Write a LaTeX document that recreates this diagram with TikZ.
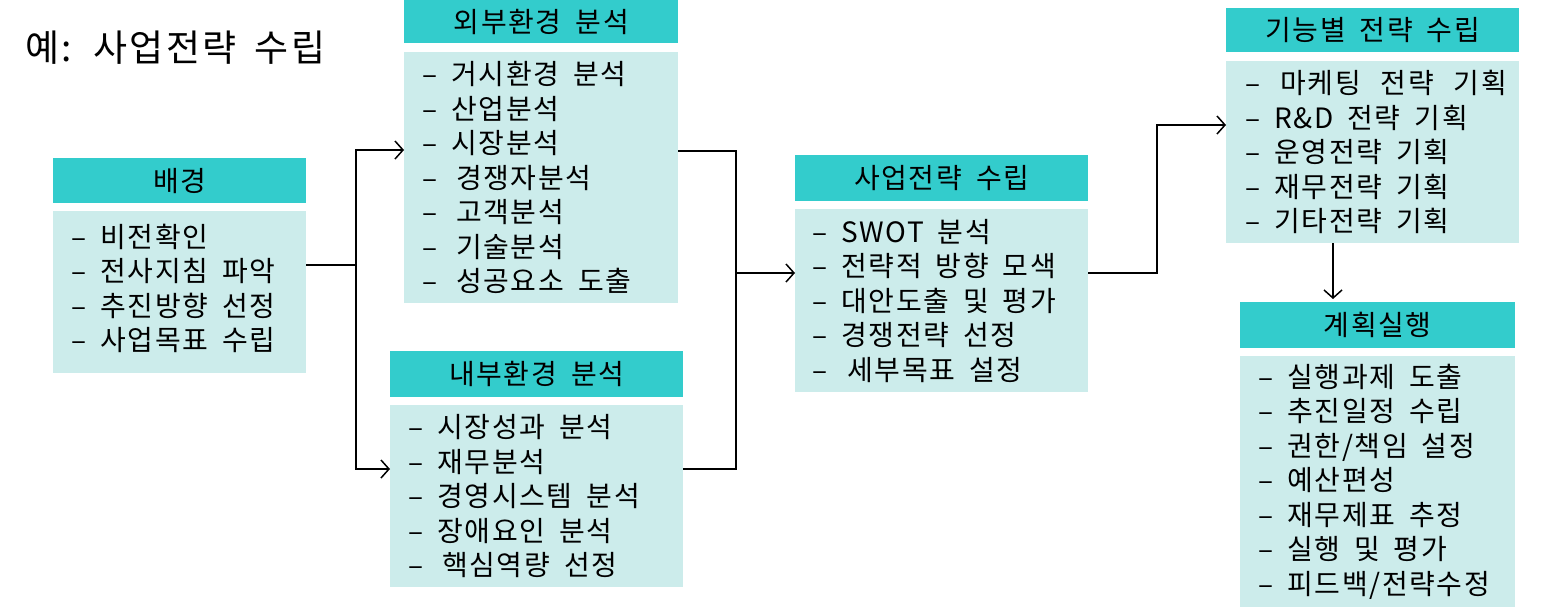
\documentclass[tikz,border=0pt]{standalone}
\usepackage{fontspec}
\newfontfamily\krfont[WordSpace=1.75,LetterSpace=6]{Noto Sans CJK KR}
\usetikzlibrary{arrows.meta}
\definecolor{headc}{HTML}{33CCCC}
\definecolor{bodyc}{HTML}{CCECEB}
\tikzset{
  head/.style 2 args={fill=headc, anchor=north west, inner sep=0pt,
    minimum width=#1, minimum height=#2, font=\krfont\fontsize{28}{30}\selectfont},
  body/.style 2 args={fill=bodyc, anchor=north west, inner sep=0pt,
    minimum width=#1, minimum height=#2},
  list/.style={anchor=west, inner sep=0pt, align=left,
    font=\krfont\fontsize{28}{34.5}\selectfont},
  conn/.style={draw=black, line width=1.5pt},
  tip/.style={-{Straight Barb[length=8pt,width=18pt,line width=1.5pt]}}
}
\begin{document}
\begin{tikzpicture}[x=1pt,y=-1pt]
\useasboundingbox (0,0) rectangle (1552,613);

\node[anchor=west, inner sep=0pt, font=\krfont\fontsize{37}{40}\selectfont] (title) at (25,48) {예: 사업전략 수립};

% 배경
\node[head={253pt}{45pt}] (bgH) at (53,158) {배경};
\node[body={253pt}{162pt}] (bgB) at (53,211) {};
\node[list] (bgT) at ([xshift=18pt,yshift=4pt]bgB.west) {– 비전확인\\– 전사지침 파악\\– 추진방향 선정\\– 사업목표 수립};

% 외부환경 분석
\node[head={274pt}{43pt}] (oeH) at (404,0) {외부환경 분석};
\node[body={274pt}{251pt}] (oeB) at (404,52) {};
\node[list] (oeT) at ([xshift=18pt]oeB.west) {– 거시환경 분석\\– 산업분석\\– 시장분석\\– \hspace{5pt}경쟁자분석\\– \hspace{5pt}고객분석\\– \hspace{5pt}기술분석\\– \hspace{5pt}성공요소 도출};

% 내부환경 분석
\node[head={293pt}{46pt}] (ieH) at (390,351) {내부환경 분석};
\node[body={293pt}{182pt}] (ieB) at (390,405) {};
\node[list] (ieT) at ([xshift=18pt]ieB.west) {– 시장성과 분석\\– 재무분석\\– 경영시스템 분석\\– 장애요인 분석\\– \hspace{5pt}핵심역량 선정};

% 사업전략 수립
\node[head={293pt}{46pt}] (stH) at (795,155) {사업전략 수립};
\node[body={293pt}{183pt}] (stB) at (795,209) {};
\node[list] (stT) at ([xshift=17pt]stB.west) {– SWOT 분석\\– 전략적 방향 모색\\– 대안도출 및 평가\\– 경쟁전략 선정\\– \hspace{6pt}세부목표 설정};

% 기능별 전략 수립
\node[head={293pt}{44pt}] (fnH) at (1226,8) {기능별 전략 수립};
\node[body={293pt}{182pt}] (fnB) at (1226,61) {};
\node[list] (fnT) at ([xshift=19pt]fnB.west) {– \hspace{6pt}마케팅\hspace{6pt} 전략\hspace{6pt} 기획\\– R\&D 전략 기획\\– 운영전략 기획\\– 재무전략 기획\\– 기타전략 기획};

% 계획실행
\node[head={275pt}{46pt}] (exH) at (1240,302) {계획실행};
\node[body={275pt}{251pt}] (exB) at (1240,356) {};
\node[list] (exT) at ([xshift=18pt]exB.west) {– 실행과제 도출\\– 추진일정 수립\\– 권한/책임 설정\\– 예산편성\\– 재무제표 추정\\– 실행 및 평가\\– 피드백/전략수정};

% connectors
\coordinate (j1) at (356,265);
\coordinate (j2) at (736,273);
\coordinate (j3) at (1157,273);

\draw[conn] (bgB.east |- j1) -- (j1);
\draw[conn,tip] (j1) |- (oeB.west |- 0,150);
\draw[conn,tip] (j1) |- (ieB.west |- 0,469);

\draw[conn] (oeB.east |- 0,151) -| (j2);
\draw[conn] (ieB.east |- 0,469) -| (j2);
\draw[conn,tip] (j2) -- (stB.west |- j2);

\draw[conn,tip] (stB.east |- j3) -- (j3) |- (fnB.west |- 0,125);

\draw[conn,tip,shorten >=3pt] (fnB.south -| 1333,0) -- (exH.north -| 1333,0);
\end{tikzpicture}
\end{document}
